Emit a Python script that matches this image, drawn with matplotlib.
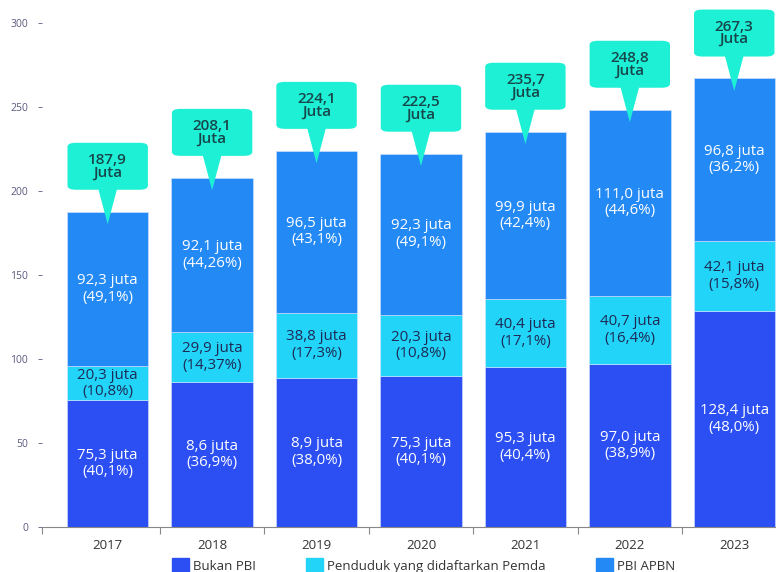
import matplotlib
matplotlib.use('Agg')
import matplotlib.pyplot as plt
from matplotlib.patches import FancyBboxPatch, Polygon, Patch

plt.rcParams['font.family'] = ['Open Sans', 'DejaVu Sans']

# data
years = ['2017', '2018', '2019', '2020', '2021', '2022', '2023']
bukan_pbi = [75.3, 86.1, 88.9, 89.9, 95.3, 97.0, 128.4]
pemda = [20.3, 29.9, 38.8, 36.3, 40.4, 40.7, 42.1]
pbi_apbn = [92.3, 92.1, 96.5, 96.3, 99.9, 111.0, 96.8]

bukan_lbl = ['75,3 juta\n(40,1%)', '8,6 juta\n(36,9%)', '8,9 juta\n(38,0%)', '75,3 juta\n(40,1%)',
             '95,3 juta\n(40,4%)', '97,0 juta\n(38,9%)', '128,4 juta\n(48,0%)']
pemda_lbl = ['20,3 juta\n(10,8%)', '29,9 juta\n(14,37%)', '38,8 juta\n(17,3%)', '20,3 juta\n(10,8%)',
             '40,4 juta\n(17,1%)', '40,7 juta\n(16,4%)', '42,1 juta\n(15,8%)']
apbn_lbl = ['92,3 juta\n(49,1%)', '92,1 juta\n(44,26%)', '96,5 juta\n(43,1%)', '92,3 juta\n(49,1%)',
            '99,9 juta\n(42,4%)', '111,0 juta\n(44,6%)', '96,8 juta\n(36,2%)']
total_lbl = ['187,9', '208,1', '224,1', '222,5', '235,7', '248,8', '267,3']

c_bukan = '#2b4ff2'
c_pemda = '#22d4f7'
c_apbn = '#2389f4'
c_box = '#1ef0d6'

fig = plt.figure(figsize=(7.76, 5.72), dpi=100)
ax = fig.add_axes([0.054, 0.079, 0.946, 0.921])

x = list(range(len(years)))
w = 0.78
mid = [a + b for a, b in zip(bukan_pbi, pemda)]
tot = [m + c for m, c in zip(mid, pbi_apbn)]

ax.bar(x, bukan_pbi, w, color=c_bukan, edgecolor='#d8e4ff', linewidth=0.4, label='Bukan PBI')
ax.bar(x, pemda, w, bottom=bukan_pbi, color=c_pemda, edgecolor='#d8e4ff', linewidth=0.4,
       label='Penduduk yang didaftarkan Pemda')
ax.bar(x, pbi_apbn, w, bottom=mid, color=c_apbn, edgecolor='#d8e4ff', linewidth=0.4, label='PBI APBN')

fs = 10.8
for i in x:
    ax.text(i, bukan_pbi[i] / 2, bukan_lbl[i], ha='center', va='center', color='white', fontsize=fs,
            linespacing=1.15)
    ax.text(i, bukan_pbi[i] + pemda[i] / 2, pemda_lbl[i], ha='center', va='center', color='#1d2a55',
            fontsize=fs, linespacing=1.15)
    ax.text(i, mid[i] + pbi_apbn[i] / 2, apbn_lbl[i], ha='center', va='center', color='white', fontsize=fs,
            linespacing=1.15)

    # callout bubble
    bw, bh = 0.77, 28
    b0 = tot[i] + 13
    box = FancyBboxPatch((i - bw / 2, b0), bw, bh, boxstyle='round,pad=0,rounding_size=0.08',
                         mutation_aspect=30, facecolor=c_box, edgecolor='none', zorder=4)
    ax.add_patch(box)
    tri = Polygon([(i - 0.09, b0 + 0.5), (i + 0.09, b0 + 0.5), (i, tot[i] - 7.5)], closed=True,
                  facecolor=c_box, edgecolor='none', zorder=4)
    ax.add_patch(tri)
    ax.text(i, b0 + bh / 2, total_lbl[i] + '\nJuta', ha='center', va='center', color='#17474a',
            fontsize=11, fontweight='semibold', linespacing=0.85, zorder=5)

ax.set_xlim(-0.63, 6.4)
ax.set_ylim(0, 314)
ax.set_yticks([0, 50, 100, 150, 200, 250, 300])
ax.tick_params(axis='y', labelsize=7.5, colors='#5a5a80', length=3, width=0.6, pad=7)
ax.set_xticks(x)
ax.set_xticklabels(years)
ax.set_xticks([-0.63] + [i + 0.5 for i in range(len(years) - 1)], minor=True)
ax.tick_params(axis='x', which='major', length=0, labelsize=9.5, pad=9, labelcolor='#333333')
ax.tick_params(axis='x', which='minor', length=5, color='#888888', width=0.8)

for s in ['top', 'right', 'left']:
    ax.spines[s].set_visible(False)
ax.spines['bottom'].set_color('#888888')

handles = [Patch(color=c_bukan), Patch(color=c_pemda), Patch(color=c_apbn)]
fig.legend(handles, ['Bukan PBI', 'Penduduk yang didaftarkan Pemda', 'PBI APBN'], loc='center',
           bbox_to_anchor=(0.546, 0.011), ncol=3, frameon=False, fontsize=9.5, handlelength=1.3,
           handleheight=1.3, handletextpad=0.3, columnspacing=3.8, labelcolor='#333333',
           borderpad=0)

plt.savefig('out.png', dpi=100)
